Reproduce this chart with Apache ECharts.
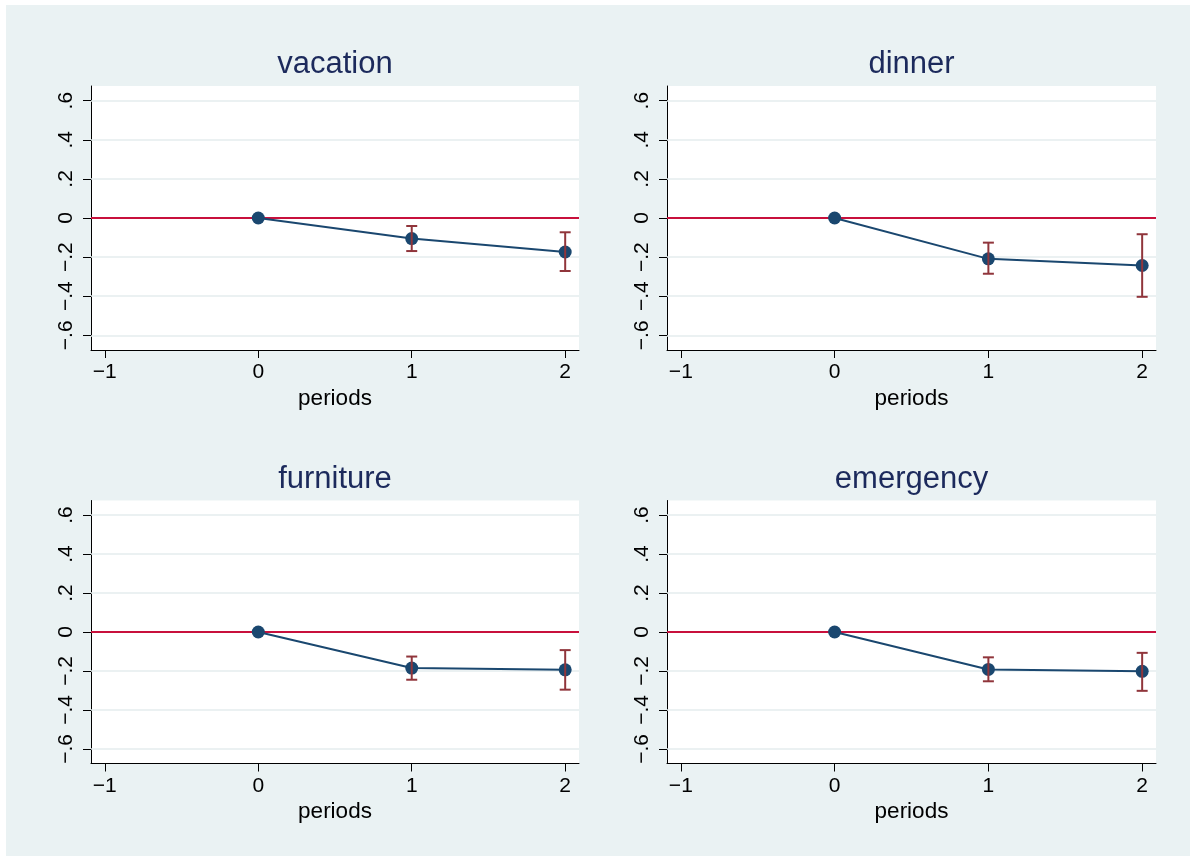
<!DOCTYPE html>
<html>
<head>
<meta charset="utf-8">
<script src="https://cdn.jsdelivr.net/npm/echarts@6/dist/echarts.min.js"></script>
<style>
  html, body { margin: 0; padding: 0; background: #ffffff; }
  #chart { width: 1196px; height: 861px; }
</style>
</head>
<body>
<div id="chart"></div>
<script>
// Panel titles (one panel per outcome)
const panelTitles = ['vacation', 'dinner', 'furniture', 'emergency'];
// Event-time periods on the x axis
const periods = [0, 1, 2];
// Point estimates per panel
const estVacation  = [0, -0.105, -0.174];
const estDinner    = [0, -0.209, -0.243];
const estFurniture = [0, -0.185, -0.194];
const estEmergency = [0, -0.192, -0.202];
// Confidence interval bounds (period 0 is the reference, no interval)
const lowVacation  = [null, -0.169, -0.271];
const highVacation = [null, -0.041, -0.073];
const lowDinner    = [null, -0.285, -0.403];
const highDinner   = [null, -0.126, -0.083];
const lowFurniture = [null, -0.245, -0.296];
const highFurniture= [null, -0.126, -0.093];
const lowEmergency = [null, -0.253, -0.302];
const highEmergency= [null, -0.130, -0.107];
// Axis ticks
const xTicks = [-1, 0, 1, 2];
const yTicks = [-0.6, -0.4, -0.2, 0, 0.2, 0.4, 0.6];
const xTitle = 'periods';

const estimates = [estVacation, estDinner, estFurniture, estEmergency];
const lows = [lowVacation, lowDinner, lowFurniture, lowEmergency];
const highs = [highVacation, highDinner, highFurniture, highEmergency];

const FONT = '"Liberation Sans", Arial, Helvetica, sans-serif';
const NAVY = '#1a476f';
const MAROON = '#90353b';
const ZERO_RED = '#c8103c';
const BG = '#eaf2f3';
const GRID_LINE = '#e4ecee';

const layouts = [
  { left: 91,  top: 86,    width: 488, height: 264 },
  { left: 667, top: 86,    width: 489, height: 264 },
  { left: 91,  top: 500.5, width: 488, height: 263 },
  { left: 667, top: 500.5, width: 489, height: 263 }
];

function fmtY(v) {
  if (Math.abs(v) < 1e-9) return '0';
  const s = String(Math.abs(v)).replace(/^0/, '');
  return (v < 0 ? '\u2212' : '') + s;
}
function fmtX(v) {
  return (v < 0 ? '\u2212' : '') + String(Math.abs(v));
}

const grid = [], xAxis = [], yAxis = [], series = [], title = [];

layouts.forEach((L, i) => {
  grid.push({
    left: L.left, top: L.top, width: L.width, height: L.height,
    show: true, backgroundColor: '#ffffff', borderWidth: 0, containLabel: false
  });
  title.push({
    text: panelTitles[i],
    left: L.left + L.width / 2 - 5,
    top: L.top - 42,
    textAlign: 'center',
    textStyle: { fontFamily: FONT, fontSize: 31, fontWeight: 'normal', color: '#1c2a5c' }
  });
  xAxis.push({
    gridIndex: i, type: 'value', min: -1.09, max: 2.09,
    name: xTitle, nameLocation: 'middle', nameGap: 37,
    nameTextStyle: { fontFamily: FONT, fontSize: 22.5, color: '#000' },
    axisLine: { show: true, onZero: false, lineStyle: { color: '#000', width: 1 } },
    axisTick: { show: true, length: 8, lineStyle: { color: '#000', width: 1 }, customValues: xTicks },
    axisLabel: { show: true, margin: 12, fontFamily: FONT, fontSize: 21, color: '#000',
                 customValues: xTicks, formatter: fmtX },
    splitLine: { show: false }
  });
  yAxis.push({
    gridIndex: i, type: 'value', min: -0.675, max: 0.675,
    axisLine: { show: true, onZero: false, lineStyle: { color: '#000', width: 1 } },
    axisTick: { show: true, length: 8, lineStyle: { color: '#000', width: 1 }, customValues: yTicks },
    axisLabel: { show: true, rotate: 90, margin: 14, fontFamily: FONT, fontSize: 21, color: '#000',
                 customValues: yTicks, formatter: fmtY },
    splitLine: { show: false }
  });

  // Horizontal gridlines at the labelled ticks, plus the zero reference line
  series.push({
    type: 'line', xAxisIndex: i, yAxisIndex: i, data: [], silent: true, z: 1,
    markLine: {
      silent: true, symbol: 'none', animation: false, label: { show: false }, z: 1,
      data: yTicks.filter(v => v !== 0).map(v => ({
        yAxis: v, lineStyle: { color: GRID_LINE, width: 1.5, type: 'solid' }
      })).concat([{ yAxis: 0, lineStyle: { color: ZERO_RED, width: 2, type: 'solid' } }])
    }
  });

  // Connected point estimates
  series.push({
    type: 'line', xAxisIndex: i, yAxisIndex: i, z: 3,
    data: periods.map((p, k) => [p, estimates[i][k]]),
    symbol: 'circle', symbolSize: 13, showAllSymbol: true,
    lineStyle: { color: NAVY, width: 2 },
    itemStyle: { color: NAVY, borderWidth: 0 },
    animation: false
  });

  // Capped confidence intervals
  series.push({
    type: 'custom', xAxisIndex: i, yAxisIndex: i, z: 4, animation: false,
    data: periods.map((p, k) => [p, lows[i][k], highs[i][k]]).filter(d => d[1] !== null),
    renderItem: function (params, api) {
      const x = api.value(0);
      const lo = api.coord([x, api.value(1)]);
      const hi = api.coord([x, api.value(2)]);
      const w = 5.5;
      const style = { stroke: MAROON, lineWidth: 2 };
      return {
        type: 'group',
        children: [
          { type: 'line', shape: { x1: lo[0], y1: lo[1], x2: hi[0], y2: hi[1] }, style },
          { type: 'line', shape: { x1: lo[0] - w, y1: lo[1], x2: lo[0] + w, y2: lo[1] }, style },
          { type: 'line', shape: { x1: hi[0] - w, y1: hi[1], x2: hi[0] + w, y2: hi[1] }, style }
        ]
      };
    }
  });
});

const chart = echarts.init(document.getElementById('chart'), null, { renderer: 'canvas' });
chart.setOption({
  backgroundColor: '#ffffff',
  animation: false,
  graphic: [{
    type: 'rect', z: -10, silent: true,
    shape: { x: 6, y: 5, width: 1184, height: 851 },
    style: { fill: BG }
  }],
  title, grid, xAxis, yAxis, series
});
</script>
</body>
</html>
